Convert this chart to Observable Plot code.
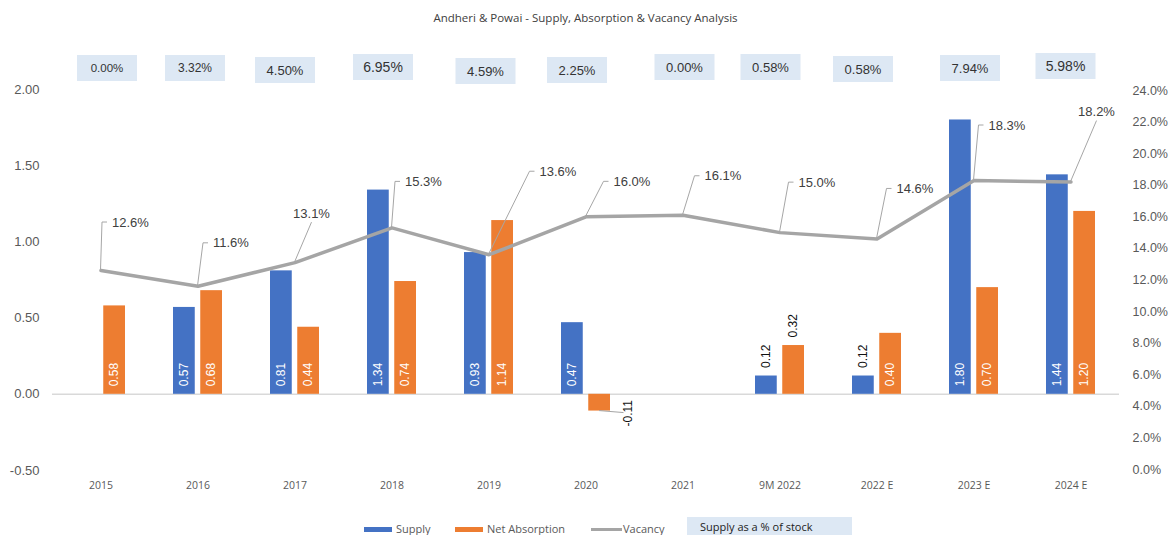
<!DOCTYPE html>
<html>
<head>
<meta charset="utf-8">
<script src="https://cdn.jsdelivr.net/npm/d3@7"></script>
<script src="https://cdn.jsdelivr.net/npm/@observablehq/plot@0.6"></script>
<style>
  html, body { margin: 0; padding: 0; background: #ffffff; }
  #wrap { position: relative; width: 1171px; height: 535px; overflow: hidden; font-family: "Liberation Sans", Arial, sans-serif; }
  #title { position: absolute; left: 0; top: 0; width: 1171px; height: 36px; line-height: 36px; text-align: center;
           font-family: "Open Sans", sans-serif; font-size: 11.5px; color: #404040; }
  #chart { position: absolute; left: 0; top: 36px; width: 1171px; height: 474px; }
  #chart svg { position: absolute; left: 0; top: 0; }
  #legend { position: absolute; left: 0; top: 510px; width: 1171px; height: 25px; font-family: "Open Sans", sans-serif; font-size: 11px; color: #595959; }
  #legend .sw { position: absolute; }
  #legend .lb { position: absolute; top: 10px; height: 18px; line-height: 18px; white-space: nowrap; }
  #legend .box { position: absolute; left: 687px; top: 7px; width: 165px; height: 18px; background: #dde8f4; box-sizing: border-box;
                 padding-left: 13px; line-height: 20px; color: #222; white-space: nowrap; overflow: visible; }
</style>
</head>
<body>
<div id="wrap">
  <div id="title">Andheri &amp; Powai - Supply, Absorption &amp; Vacancy Analysis</div>
  <div id="chart"></div>
  <div id="legend">
    <div class="sw" style="left:364px;top:17px;width:28px;height:5px;background:#4472c4"></div>
    <div class="lb" style="left:396px">Supply</div>
    <div class="sw" style="left:455px;top:17px;width:28px;height:5px;background:#ed7d31"></div>
    <div class="lb" style="left:487px">Net Absorption</div>
    <div class="sw" style="left:591px;top:18px;width:31px;height:3px;background:#a5a5a5"></div>
    <div class="lb" style="left:623px">Vacancy</div>
    <div class="box">Supply as a % of stock</div>
  </div>
</div>
<script>
// ---------------- data ----------------
const categories = ["2015", "2016", "2017", "2018", "2019", "2020", "2021", "9M 2022", "2022 E", "2023 E", "2024 E"];
const supply = [null, 0.57, 0.81, 1.34, 0.93, 0.47, null, 0.12, 0.12, 1.80, 1.44];
const netAbsorption = [0.58, 0.68, 0.44, 0.74, 1.14, -0.11, null, 0.32, 0.40, 0.70, 1.20];
const vacancy = [12.6, 11.6, 13.1, 15.3, 13.6, 16.0, 16.1, 15.0, 14.6, 18.3, 18.2];
const supplyPctStock = ["0.00%", "3.32%", "4.50%", "6.95%", "4.59%", "2.25%", "0.00%", "0.58%", "0.58%", "7.94%", "5.98%"];
const leftTicks = [-0.5, 0, 0.5, 1.0, 1.5, 2.0];
const rightTicks = [0, 2, 4, 6, 8, 10, 12, 14, 16, 18, 20, 22, 24];

// ---------------- annotation layout (pixel nudges, styling only) ----------------
// vacancy callouts: leader corner offset from the point; side = text to the right, else text above
const calloutLayout = [
  {dx: 1.5, dy: -48, side: true}, {dx: 5.5, dy: -43, side: true}, {dx: 17, dy: -40, side: false},
  {dx: 3.5, dy: -46, side: true}, {dx: 41, dy: -83, side: true}, {dx: 18, dy: -35, side: true},
  {dx: 12, dy: -39, side: true}, {dx: 9, dy: -50, side: true}, {dx: 10, dy: -50, side: true},
  {dx: 5, dy: -55, side: true}, {dx: 26, dy: -61, side: false}
];
// "supply as % of stock" boxes: horizontal nudge from category centre, top, font size
const boxLayout = [
  [6.5, 19, 11.5], [-2.5, 19, 12], [-9.5, 21, 13], [-8.5, 18, 14], [-3, 22, 13], [-8.5, 21, 13],
  [2, 18, 13], [-9, 18, 13], [-13.5, 20, 13], [-3.5, 19, 13], [-5, 17, 14]
];

const rows = categories.map((c, i) => ({
  category: c, supply: supply[i], absorption: netAbsorption[i], vacancy: vacancy[i], pct: supplyPctStock[i], i
}));

const W = 1171, H = 474;
const BLUE = "#4472c4", ORANGE = "#ed7d31", GREY = "#a5a5a5";
const FONT = '"Liberation Sans", Arial, sans-serif';
const xScale = {type: "band", domain: categories, paddingInner: 0.5, paddingOuter: 0.25, align: 0.5};
const BAR_INSET = 27.25, HALF = 13.6;

function svgEl(tag, attrs) {
  const e = document.createElementNS("http://www.w3.org/2000/svg", tag);
  for (const k in attrs) e.setAttribute(k, attrs[k]);
  return e;
}
function bandCenter(sx, v) {
  const bw = typeof sx.bandwidth === "function" ? sx.bandwidth() : 0;
  return sx(v) + bw / 2;
}

const supplyRows = rows.filter(d => d.supply != null);
const absRows = rows.filter(d => d.absorption != null);
const isInside = v => v >= 0.35;

// leader for the negative absorption label
const negLeader = (index, scales) => {
  const g = svgEl("g", {"aria-label": "negative label leader"});
  absRows.filter(d => d.absorption < 0).forEach(d => {
    const c = bandCenter(scales.x, d.category);
    const y = scales.y(d.absorption);
    g.append(svgEl("path", {d: `M${c + HALF},${y} L${c + 38},${y + 2}`, stroke: GREY, "stroke-width": 1, fill: "none"}));
  });
  return g;
};

const bars = Plot.plot({
  width: W, height: H,
  marginTop: 53, marginBottom: 40, marginLeft: 52, marginRight: 52,
  style: {fontFamily: FONT, fontSize: "12px", background: "none", overflow: "visible"},
  x: xScale,
  y: {domain: [-0.5, 2.0]},
  marks: [
    Plot.ruleY([0], {stroke: "#d9d9d9", strokeWidth: 1.5}),
    Plot.barY(supplyRows, {x: "category", y: "supply", fill: BLUE, insetRight: BAR_INSET}),
    Plot.barY(absRows, {x: "category", y: "absorption", fill: ORANGE, insetLeft: BAR_INSET}),
    // inside (white) labels
    Plot.text(supplyRows.filter(d => isInside(d.supply)), {
      x: "category", y: d => 0, text: d => d.supply.toFixed(2), rotate: -90, textAnchor: "start",
      dx: -HALF, dy: -8, fill: "white", fontSize: 12
    }),
    Plot.text(absRows.filter(d => isInside(d.absorption)), {
      x: "category", y: d => 0, text: d => d.absorption.toFixed(2), rotate: -90, textAnchor: "start",
      dx: HALF, dy: -8, fill: "white", fontSize: 12
    }),
    // outside labels above small bars
    Plot.text(supplyRows.filter(d => d.supply >= 0 && !isInside(d.supply)), {
      x: "category", y: "supply", text: d => d.supply.toFixed(2), rotate: -90, textAnchor: "start",
      dx: -HALF, dy: -8, fill: "#111", fontSize: 12
    }),
    Plot.text(absRows.filter(d => d.absorption >= 0 && !isInside(d.absorption)), {
      x: "category", y: "absorption", text: d => d.absorption.toFixed(2), rotate: -90, textAnchor: "start",
      dx: HALF, dy: -8, fill: "#111", fontSize: 12
    }),
    // negative label
    negLeader,
    Plot.text(absRows.filter(d => d.absorption < 0), {
      x: "category", y: "absorption", text: d => d.absorption.toFixed(2), rotate: -90, textAnchor: "end",
      dx: 42.5, dy: -11, fill: "#111", fontSize: 12
    }),
    Plot.axisY({ticks: leftTicks, tickFormat: d => d.toFixed(2), tickSize: 0, tickPadding: 13,
                fontSize: 13, fill: "#595959", label: null}),
    Plot.axisX({tickSize: 0, tickPadding: 11, fontSize: 10.5, fontFamily: "Open Sans", fill: "#595959", label: null})
  ]
});

// callouts for vacancy
const callouts = (index, scales) => {
  const g = svgEl("g", {"aria-label": "vacancy callouts"});
  rows.forEach((d, i) => {
    const L = calloutLayout[i];
    const px = bandCenter(scales.x, d.category), py = scales.y(d.vacancy);
    const cx = px + L.dx, cy = py + L.dy;
    const pts = L.side ? `${px},${py} ${cx},${cy} ${cx + 5},${cy}` : `${px},${py} ${cx},${cy}`;
    g.append(svgEl("polyline", {points: pts, fill: "none", stroke: "#a6a6a6", "stroke-width": 1}));
    const t = svgEl("text", {
      x: L.side ? cx + 10 : cx, y: L.side ? cy : cy - 9, "text-anchor": L.side ? "start" : "middle",
      dy: "0.35em", "font-size": 13, fill: "#404040", "font-family": FONT
    });
    t.textContent = d.vacancy.toFixed(1) + "%";
    g.append(t);
  });
  return g;
};

// supply as % of stock boxes
const boxes = (index, scales) => {
  const g = svgEl("g", {"aria-label": "supply as % of stock"});
  rows.forEach((d, i) => {
    const [nx, top, fs] = boxLayout[i];
    const c = bandCenter(scales.x, d.category) + nx;
    g.append(svgEl("rect", {x: c - 30, y: top, width: 60, height: 26, fill: "#dde8f4"}));
    const t = svgEl("text", {x: c, y: top + 13, dy: "0.35em", "text-anchor": "middle", "font-size": fs,
                             fill: "#333", "font-family": FONT});
    t.textContent = d.pct;
    g.append(t);
  });
  return g;
};

const line = Plot.plot({
  width: W, height: H,
  marginTop: 54, marginBottom: 41, marginLeft: 52, marginRight: 52,
  style: {fontFamily: FONT, fontSize: "12px", background: "none", overflow: "visible"},
  x: {...xScale, axis: null},
  y: {domain: [0, 24]},
  marks: [
    boxes,
    callouts,
    Plot.line(rows, {x: "category", y: "vacancy", stroke: GREY, strokeWidth: 3.5, strokeLinejoin: "round"}),
    Plot.axisY({anchor: "right", ticks: rightTicks, tickFormat: d => d.toFixed(1) + "%", tickSize: 0,
                tickPadding: 13, fontSize: 12.5, fill: "#595959", label: null})
  ]
});
line.style.pointerEvents = "none";

const chart = document.getElementById("chart");
chart.append(bars);
chart.append(line);
</script>
</body>
</html>
